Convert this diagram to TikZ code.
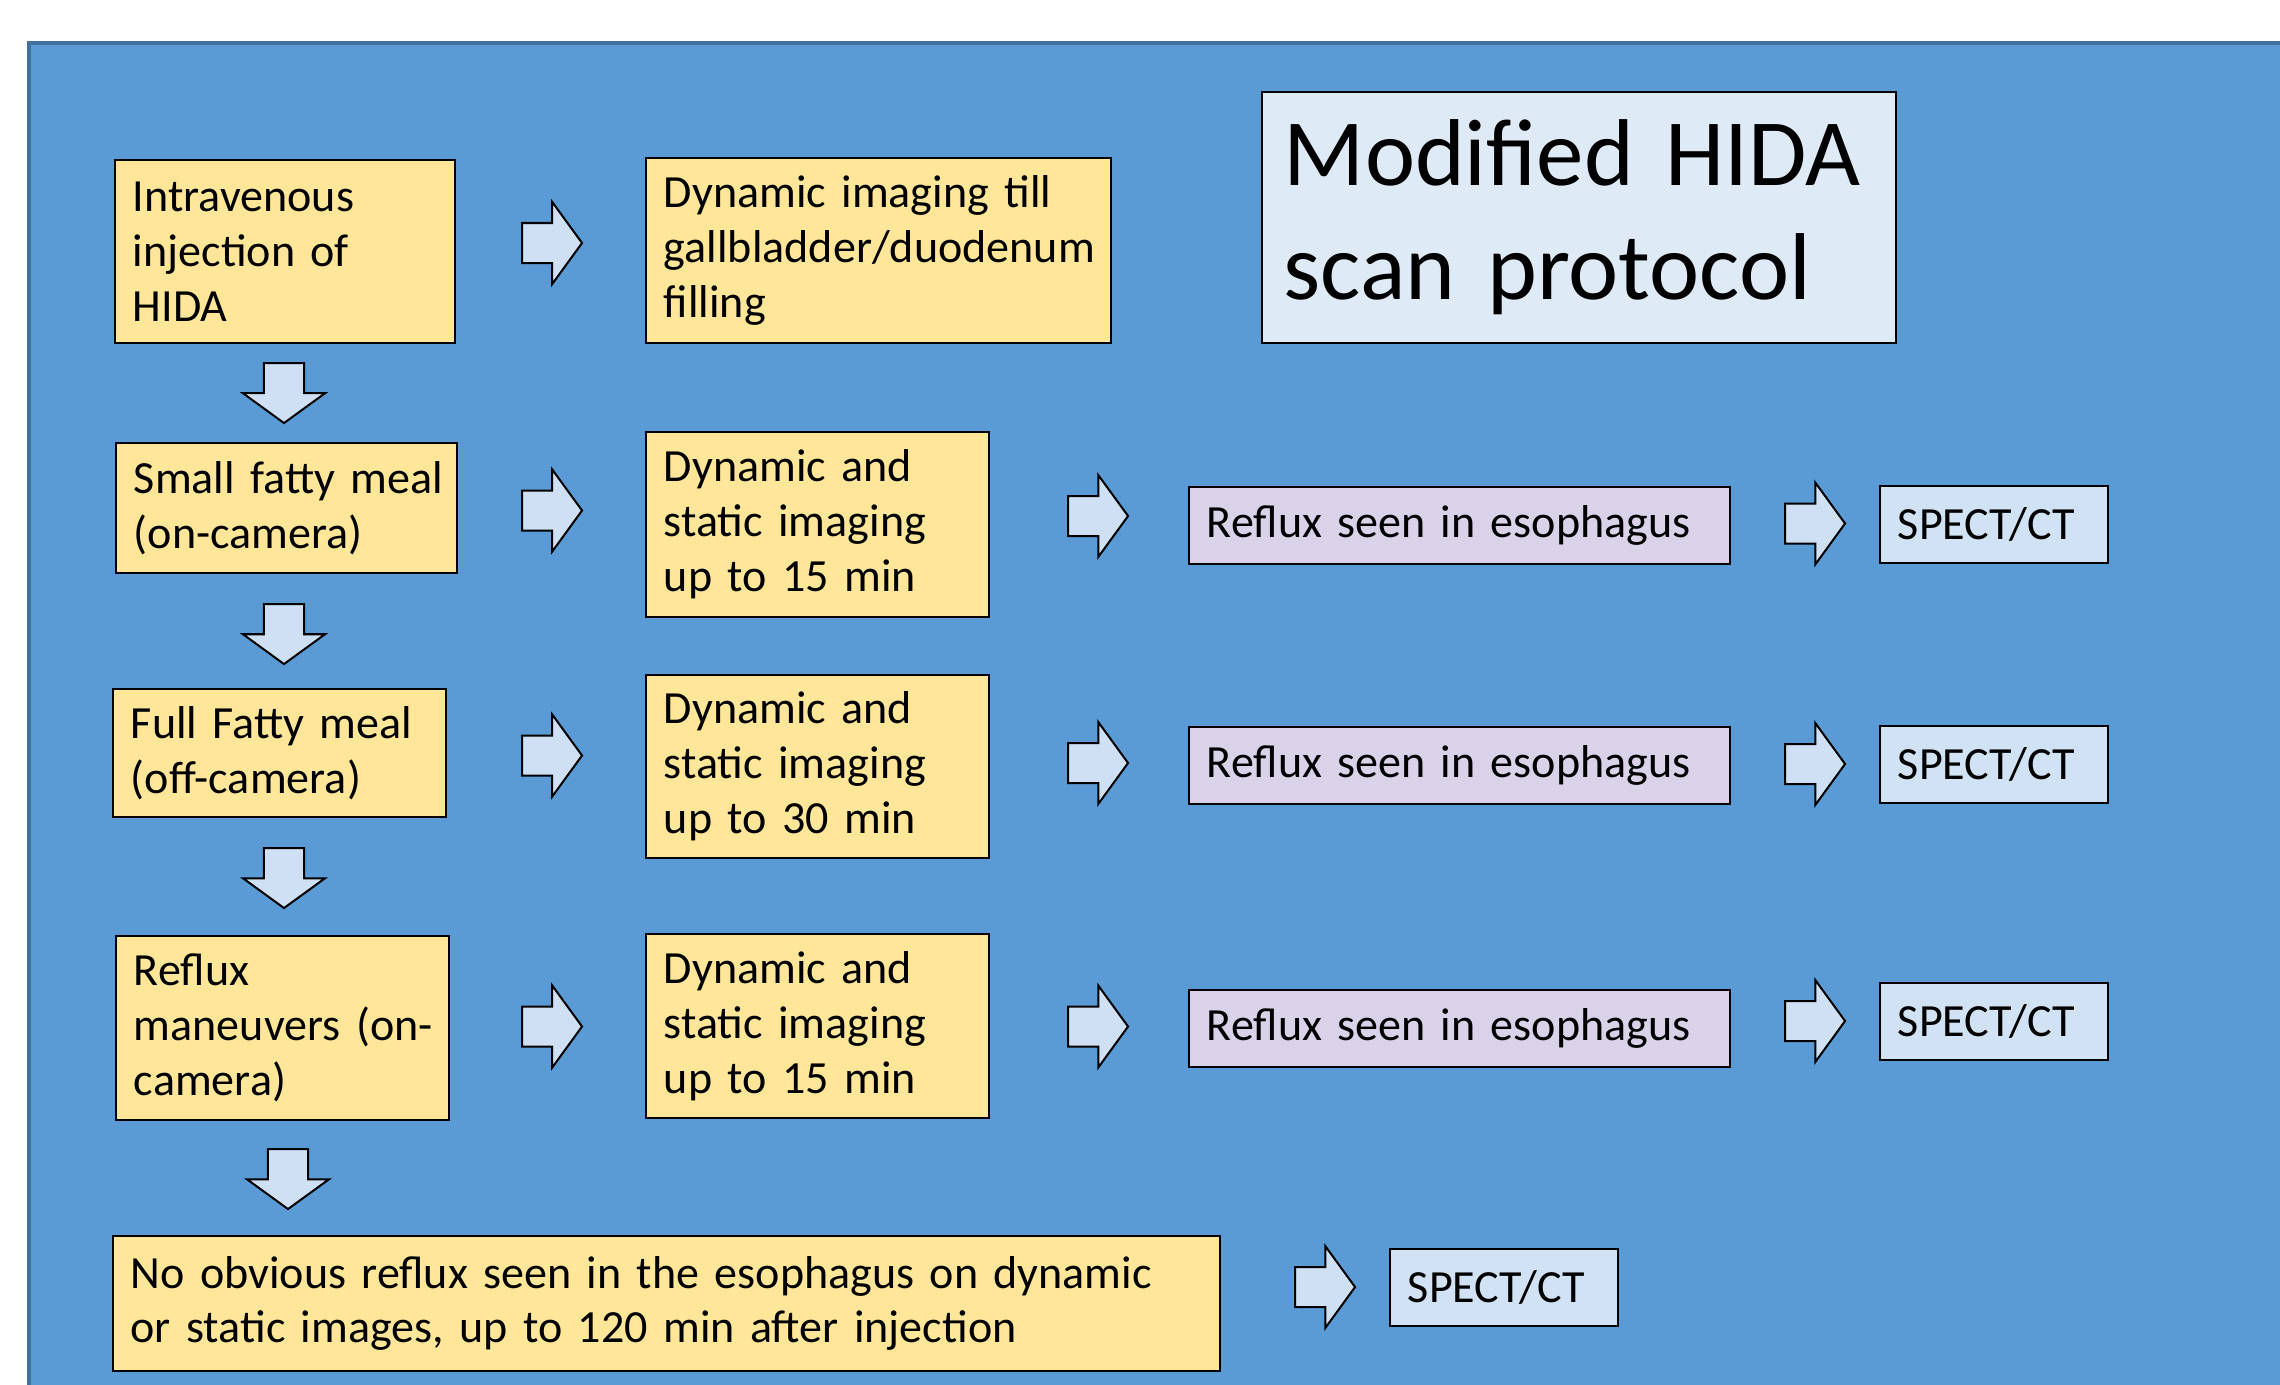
\documentclass[tikz,border=0pt]{standalone}
\usepackage{fontspec}
\setmainfont{Carlito}
\usetikzlibrary{shapes.arrows}
\definecolor{bgblue}{HTML}{5B9BD5}
\definecolor{bgline}{HTML}{41719C}
\definecolor{stepyel}{HTML}{FFE699}
\definecolor{reflav}{HTML}{D9D2E9}
\definecolor{ctblue}{HTML}{D0E2F3}
\definecolor{titleblue}{HTML}{DEEBF7}
\definecolor{arrblue}{HTML}{CFE0F4}

\begin{document}
\begin{tikzpicture}[x=0.01cm, y=-0.01cm,
    box/.style={draw=black, line width=0.02cm, inner xsep=0.18cm, inner ysep=0pt,
        align=left, font=\fontsize{13.1pt}{15.6pt}\selectfont},
    yelbox/.style={box, fill=stepyel},
    refbox/.style={box, fill=reflav, minimum height=0.77cm, text width=5.05cm},
    ctbox/.style={box, fill=ctblue, minimum height=0.77cm, text width=1.92cm},
    blockarr/.style={single arrow, draw=black, line width=0.02cm, fill=arrblue,
        anchor=tail, single arrow head extend=0.21cm,
        single arrow tip angle=108, minimum height=0.6cm},
    rarr/.style={blockarr, inner xsep=0pt, inner ysep=0.19cm},
    darr/.style={blockarr, inner xsep=0.19cm, inner ysep=0pt, shape border rotate=270}]
    \useasboundingbox (0,0) rectangle (2280,1384);
    % background panel
    \fill[bgblue] (29,43) rectangle (2300,1400);
    \draw[bgline, line width=0.045cm] (29,1400) -- (29,43) -- (2300,43);

    % title
    \node[box, fill=titleblue, inner xsep=0.22cm, text width=5.90cm, minimum height=2.51cm,
        font=\fontsize{27pt}{32.5pt}\selectfont] (title) at (1579,217.5)
        {Modified HIDA\\scan protocol};

    % left column
    \node[yelbox, text width=3.04cm, minimum height=1.83cm] (inj) at (285,251.5)
        {Intravenous\\injection of\\HIDA};
    \node[yelbox, text width=3.05cm, minimum height=1.30cm] (small) at (286.5,508)
        {\mbox{Small fatty meal}\\(on-camera)};
    \node[yelbox, text width=2.97cm, minimum height=1.28cm] (full) at (279.5,753)
        {\mbox{Full Fatty meal}\\(off-camera)};
    \node[yelbox, text width=2.97cm, minimum height=1.84cm] (man) at (282.5,1028)
        {Reflux\\\mbox{maneuvers (on-}\\camera)};
    \node[yelbox, text width=10.71cm, minimum height=1.35cm] (none) at (666.5,1303.5)
        {No obvious reflux seen in the esophagus on dynamic\\or static images, up to 120 min after injection};

    % imaging column
    \node[yelbox, text width=4.29cm, minimum height=1.85cm] (till) at (878.5,250.5)
        {Dynamic imaging till\\gallbladder/duodenum\\filling};
    \node[yelbox, text width=3.07cm, minimum height=1.85cm] (dyn1) at (817.5,524.5)
        {Dynamic and\\static imaging\\up to 15 min};
    \node[yelbox, text width=3.07cm, minimum height=1.83cm] (dyn2) at (817.5,766.5)
        {Dynamic and\\static imaging\\up to 30 min};
    \node[yelbox, text width=3.07cm, minimum height=1.84cm] (dyn3) at (817.5,1026)
        {Dynamic and\\static imaging\\up to 15 min};

    % results
    \node[refbox] (refl1) at (1459.5,525.5) {Reflux seen in esophagus};
    \node[refbox] (refl2) at (1459.5,765.5) {Reflux seen in esophagus};
    \node[refbox] (refl3) at (1459.5,1028.5) {Reflux seen in esophagus};
    \node[ctbox] (ct1) at (1994,524.5) {SPECT/CT};
    \node[ctbox] (ct2) at (1994,764.5) {SPECT/CT};
    \node[ctbox] (ct3) at (1994,1021.5) {SPECT/CT};
    \node[ctbox] (ct4) at (1504,1287.5) {SPECT/CT};

    % block arrows (placed by their tails)
    \node[rarr] (r1) at (521,243) {};
    \node[rarr] (r2) at (521,510.5) {};
    \node[rarr] (r3) at (1067,516) {};
    \node[rarr] (r4) at (1784,523.5) {};
    \node[rarr] (r5) at (521,755.5) {};
    \node[rarr] (r6) at (1067,763) {};
    \node[rarr] (r7) at (1784,764) {};
    \node[rarr] (r8) at (521,1026.5) {};
    \node[rarr] (r9) at (1067,1026.5) {};
    \node[rarr] (r10) at (1784,1021) {};
    \node[rarr] (r11) at (1294,1287) {};
    \node[darr] (d1) at (284,362) {};
    \node[darr] (d2) at (284,603) {};
    \node[darr] (d3) at (284,847) {};
    \node[darr] (d4) at (288,1148) {};
\end{tikzpicture}
\end{document}
